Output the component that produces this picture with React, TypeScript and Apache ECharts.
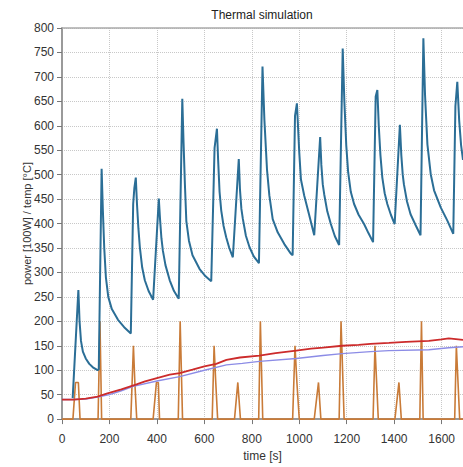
import React, { useEffect, useRef } from "react";
import * as echarts from "echarts";

const titleText = "Thermal simulation";
const xName = "time [s]";
const yName = "power [100W] / temp [°C]";

// [time s, value]
const hotSpotTemp: [number, number][] = [
  [45, 43], [69, 264], [74, 200], [80, 160], [88, 138], [100, 124], [115, 113], [130, 106], [150, 100], [155, 102],
  [167, 512], [172, 430], [178, 350], [185, 290], [195, 250], [210, 225], [236, 203], [262, 188], [290, 175],
  [300, 440], [305, 473], [311, 494], [316, 440], [322, 390], [328, 352], [338, 310], [349, 284], [365, 262], [384, 244],
  [408, 451], [413, 410], [419, 370], [425, 345], [436, 315], [454, 284], [472, 262], [492, 246],
  [507, 655], [512, 570], [518, 480], [524, 405], [535, 365], [550, 335], [580, 307], [605, 292], [629, 282],
  [643, 555], [653, 594], [658, 530], [664, 465], [671, 427], [681, 395], [692, 372], [705, 350], [720, 331],
  [745, 532], [750, 470], [756, 430], [762, 410], [775, 375], [790, 352], [808, 333], [830, 319],
  [845, 721], [853, 612], [864, 510], [874, 457], [888, 409], [909, 382], [937, 358], [965, 338], [972, 335],
  [982, 620], [990, 646], [1000, 545], [1007, 490], [1021, 457], [1042, 417], [1063, 376],
  [1088, 577], [1093, 520], [1099, 480], [1105, 460], [1118, 425], [1133, 399], [1150, 374], [1168, 356],
  [1183, 758], [1190, 650], [1198, 560], [1206, 505], [1217, 465], [1231, 440], [1250, 418], [1273, 399], [1292, 380], [1311, 362],
  [1322, 660], [1329, 673], [1335, 600], [1342, 540], [1350, 494], [1360, 462], [1371, 440], [1386, 418], [1402, 399],
  [1424, 602], [1430, 540], [1436, 500], [1441, 480], [1454, 445], [1469, 419], [1490, 397], [1511, 376],
  [1523, 779], [1530, 663], [1540, 562], [1554, 501], [1568, 468], [1596, 433], [1624, 406], [1649, 379],
  [1658, 640], [1666, 690], [1674, 610], [1682, 560], [1690, 530],
];

const powerIn: [number, number][] = [
  [0, 0], [46, 0], [57, 75], [69, 75], [76, 0],
  [152, 0], [160, 200], [167, 0],
  [290, 0], [301, 150], [307, 75], [315, 0],
  [384, 0], [398, 75], [406, 75], [411, 0],
  [490, 0], [498, 200], [508, 0],
  [633, 0], [641, 150], [648, 75], [656, 0],
  [727, 0], [741, 75], [752, 0],
  [829, 0], [836, 200], [846, 0],
  [972, 0], [982, 150], [990, 75], [1000, 0],
  [1063, 0], [1081, 75], [1091, 0],
  [1168, 0], [1176, 200], [1189, 0],
  [1311, 0], [1319, 150], [1326, 75], [1333, 0],
  [1403, 0], [1420, 75], [1430, 0],
  [1508, 0], [1515, 200], [1522, 0],
  [1655, 0], [1662, 150], [1669, 75], [1676, 0], [1690, 0],
];

const caseTemp: [number, number][] = [
  [0, 40], [50, 40], [100, 42], [150, 46], [188, 52], [250, 61], [314, 71], [350, 77],
  [400, 84], [454, 91], [496, 94], [550, 101], [600, 108], [650, 113], [693, 121],
  [750, 126], [832, 130], [900, 135], [987, 140], [1050, 144], [1100, 146], [1181, 150],
  [1250, 152], [1300, 154], [1378, 156], [1450, 158], [1546, 160], [1600, 163],
  [1630, 165], [1690, 162],
];

const ambientTemp: [number, number][] = [
  [0, 40], [50, 40], [100, 41], [150, 45], [200, 50], [250, 58], [300, 67], [400, 78],
  [496, 87], [600, 100], [693, 111], [760, 114], [832, 118], [987, 124], [1100, 130],
  [1181, 134], [1300, 138], [1378, 140], [1546, 142], [1630, 146], [1690, 148],
];

const FONT = "'Liberation Sans', Arial, Helvetica, sans-serif";

export default function App() {
  const ref = useRef<HTMLDivElement>(null);
  useEffect(() => {
    if (!ref.current) return;
    const chart = echarts.init(ref.current, undefined, { renderer: "svg" });
    chart.setOption({
      animation: false,
      backgroundColor: "#fff",
      textStyle: { fontFamily: FONT },
      grid: { left: 62, right: 0, top: 28, bottom: 44 },
      graphic: [
        {
          type: "text",
          x: 262,
          y: 15,
          style: {
            text: titleText,
            fontSize: 12,
            fontFamily: FONT,
            fill: "#222",
            align: "center",
            verticalAlign: "middle",
          },
        },
      ],
      xAxis: [
        {
          type: "value",
          min: 0,
          max: 1690,
          interval: 200,
          offset: 5,
          name: xName,
          nameLocation: "middle",
          nameGap: 24,
          nameTextStyle: { fontSize: 12, color: "#333", fontFamily: FONT },
          axisLine: { show: true, lineStyle: { color: "#9a9a9a", width: 2 } },
          axisTick: { show: true, length: 5, lineStyle: { color: "#777" } },
          axisLabel: {
            margin: 9,
            fontSize: 12,
            color: "#333",
            showMaxLabel: false,
            fontFamily: FONT,
            formatter: (v: number) => String(v),
          },
          splitLine: { show: true, lineStyle: { type: "dotted", color: "#c8c8c8" } },
        },
        {
          type: "value",
          position: "top",
          min: 0,
          max: 1690,
          interval: 200,
          axisLine: { show: true, lineStyle: { color: "#aaa", width: 1.5 } },
          axisTick: { show: false },
          axisLabel: { show: false },
          splitLine: { show: false },
        },
      ],
      yAxis: {
        type: "value",
        min: 0,
        max: 800,
        interval: 50,
        name: yName,
        nameLocation: "middle",
        nameGap: 30,
        nameMoveOverlap: false,
        nameTextStyle: { fontSize: 11, color: "#333", fontFamily: FONT },
        axisLine: { show: true, lineStyle: { color: "#9a9a9a", width: 2 } },
        axisTick: { show: true, length: 5, lineStyle: { color: "#777" } },
        axisLabel: { margin: 8, fontSize: 12, color: "#333", fontFamily: FONT },
        splitLine: { show: true, lineStyle: { type: "dotted", color: "#c8c8c8" } },
      },
      series: [
        {
          name: "power",
          type: "line",
          data: powerIn,
          showSymbol: false,
          symbol: "none",
          lineStyle: { color: "#c97b38", width: 1.6 },
          itemStyle: { color: "#c97b38" },
        },
        {
          name: "ambient",
          type: "line",
          data: ambientTemp,
          showSymbol: false,
          symbol: "none",
          lineStyle: { color: "#8c8ce6", width: 1.4 },
          itemStyle: { color: "#8c8ce6" },
        },
        {
          name: "case",
          type: "line",
          data: caseTemp,
          showSymbol: false,
          symbol: "none",
          lineStyle: { color: "#cc2b2b", width: 1.8 },
          itemStyle: { color: "#cc2b2b" },
        },
        {
          name: "hotspot",
          type: "line",
          data: hotSpotTemp,
          showSymbol: false,
          symbol: "none",
          lineStyle: { color: "#2b6e96", width: 2 },
          itemStyle: { color: "#2b6e96" },
        },
      ],
    });
    return () => chart.dispose();
  }, []);
  return (
    <div
      ref={ref}
      style={{ position: "fixed", left: 0, top: 0, width: 463, height: 467 }}
    />
  );
}
